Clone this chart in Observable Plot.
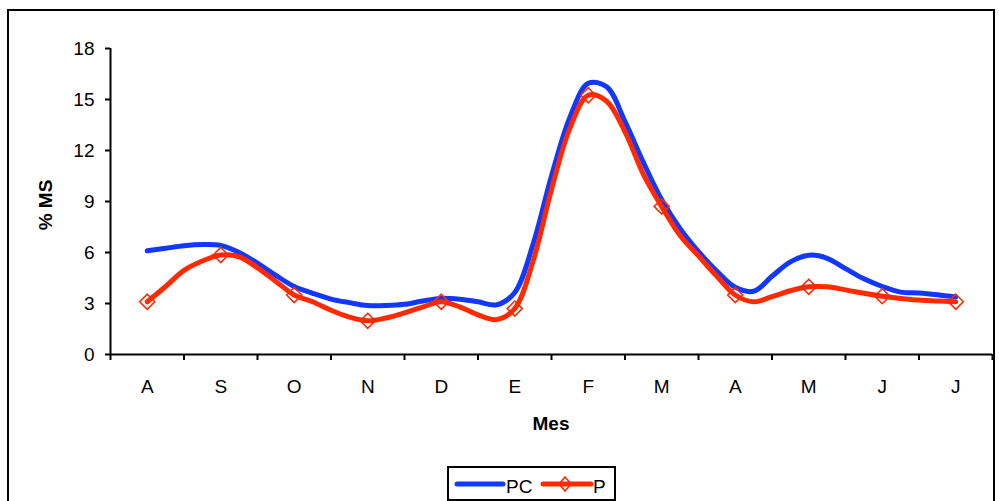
<!DOCTYPE html>
<html>
<head>
<meta charset="utf-8">
<script src="https://cdn.jsdelivr.net/npm/d3@7"></script>
<script src="https://cdn.jsdelivr.net/npm/@observablehq/plot@0.6"></script>
<style>
  html, body { margin: 0; padding: 0; background: #fff; overflow: hidden; width: 999px; height: 501px; }
  body { position: relative; font-family: Arial, "Liberation Sans", sans-serif; }
  #frame { position: absolute; left: 7px; top: 9px; width: 988px; height: 520px; border: 2px solid #000; box-sizing: border-box; }
  #chart { position: absolute; left: 0; top: 0; }
  .title { position: absolute; font-weight: bold; font-size: 19px; color: #000; white-space: nowrap; }
  #xtitle { left: 551px; top: 413px; transform: translateX(-50%); }
  #ytitle { left: 46px; top: 205px; transform: translate(-50%, -50%) rotate(-90deg); }
  #legend { position: absolute; left: 447px; top: 466px; width: 169px; height: 35px; border: 2px solid #000; box-sizing: border-box; background: #fff; }
  #legend svg { position: absolute; left: 0; top: 0; }
</style>
</head>
<body>
<div id="frame"></div>
<div id="chart"></div>
<div class="title" id="xtitle">Mes</div>
<div class="title" id="ytitle">% MS</div>
<div id="legend"></div>
<script>
// Month labels (one per category, Aug → Jul)
const months = ["A", "S", "O", "N", "D", "E", "F", "M", "A", "M", "J", "J"];
// Y axis ticks
const yTicks = [0, 3, 6, 9, 12, 15, 18];
// Weekly readings (4 per month), PC series
const pcValues = [
  6.1, 6.25, 6.4, 6.47, 6.42, 6.0, 5.37, 4.65, 4.0,
  3.6, 3.26, 3.05, 2.88, 2.88, 2.95, 3.15, 3.3,
  3.25, 3.1, 2.92, 3.65, 6.5, 10.5, 13.95, 15.95,
  15.75, 13.7, 11.3, 9.1, 7.4, 6.05, 4.9, 3.95,
  3.72, 4.6, 5.45, 5.84, 5.66, 5.05, 4.45, 4.0,
  3.67, 3.62, 3.52, 3.39
];
// Weekly readings (4 per month), P series
const pValues = [
  3.1, 4.0, 4.95, 5.5, 5.85, 5.75, 5.1, 4.3, 3.5,
  3.1, 2.6, 2.2, 1.98, 2.15, 2.45, 2.8, 3.1,
  2.8, 2.33, 2.05, 2.7, 5.5, 9.7, 13.3, 15.25,
  14.9, 13.1, 10.6, 8.7, 7.0, 5.8, 4.6, 3.5,
  3.1, 3.4, 3.75, 3.98, 3.98, 3.8, 3.6, 3.43,
  3.3, 3.2, 3.15, 3.1
];
const seriesNames = ["PC", "P"];
const colors = ["#1238ff", "#ff2a00"];

const pc = pcValues.map((v, i) => ({i, v}));
const p = pValues.map((v, i) => ({i, v}));
const pMarkers = p.filter(d => d.i % 4 === 0);
const centers = months.map((m, k) => k * 4);
const bounds = d3.range(months.length + 1).map(k => k * 4 - 2);

const chart = Plot.plot({
  width: 999,
  height: 501,
  marginLeft: 110,
  marginRight: 7,
  marginTop: 48,
  marginBottom: 147,
  style: {fontFamily: 'Arial, "Liberation Sans", sans-serif', fontSize: "19px", color: "#000", background: "transparent"},
  x: {domain: [-2, 46]},
  y: {domain: [0, 18]},
  marks: [
    Plot.axisY({ticks: yTicks, tickSize: 5, tickPadding: 11, label: null, strokeWidth: 2}),
    Plot.axisX({ticks: bounds, tickSize: 6, tickFormat: () => "", label: null, strokeWidth: 2}),
    Plot.axisX({ticks: centers, tickSize: 0, tickPadding: 25, tickFormat: d => months[d / 4], label: null}),
    Plot.ruleX([-2], {stroke: "#000", strokeWidth: 2}),
    Plot.ruleY([0], {stroke: "#000", strokeWidth: 2}),
    Plot.line(pc, {x: "i", y: "v", curve: "catmull-rom", stroke: colors[0], strokeWidth: 5, strokeLinejoin: "round", strokeLinecap: "round"}),
    Plot.line(p, {x: "i", y: "v", curve: "catmull-rom", stroke: colors[1], strokeWidth: 5, strokeLinejoin: "round", strokeLinecap: "round"}),
    Plot.dot(pMarkers, {x: "i", y: "v", symbol: "diamond2", r: 6.8, stroke: colors[1], strokeWidth: 1.6, fill: "none"})
  ]
});
document.getElementById("chart").appendChild(chart);

// Legend
const legendSvg = d3.create("svg").attr("width", 169).attr("height", 35);
legendSvg.append("line").attr("x1", 8).attr("x2", 54).attr("y1", 16).attr("y2", 16)
  .attr("stroke", colors[0]).attr("stroke-width", 5).attr("stroke-linecap", "round");
legendSvg.append("text").attr("x", 57).attr("y", 25).attr("font-size", 19)
  .attr("font-family", 'Arial, "Liberation Sans", sans-serif').text(seriesNames[0]);
legendSvg.append("line").attr("x1", 94).attr("x2", 142).attr("y1", 16).attr("y2", 16)
  .attr("stroke", colors[1]).attr("stroke-width", 5).attr("stroke-linecap", "round");
legendSvg.append("path").attr("d", "M116,9 L122,16 L116,23 L110,16 Z")
  .attr("fill", "none").attr("stroke", colors[1]).attr("stroke-width", 1.6);
legendSvg.append("text").attr("x", 144).attr("y", 25).attr("font-size", 19)
  .attr("font-family", 'Arial, "Liberation Sans", sans-serif').text(seriesNames[1]);
document.getElementById("legend").appendChild(legendSvg.node());
</script>
</body>
</html>
